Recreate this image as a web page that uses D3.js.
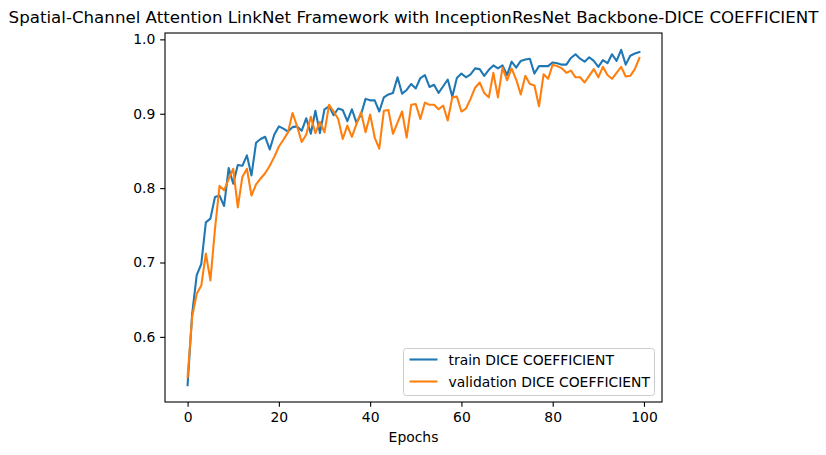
<!DOCTYPE html>
<html>
<head>
<meta charset="utf-8">
<script src="https://cdn.jsdelivr.net/npm/d3@7"></script>
<style>
  html, body { margin: 0; padding: 0; background: #fff; }
  svg { display: block; font-family: "DejaVu Sans", sans-serif; }
</style>
</head>
<body>
<svg id="chart" width="826" height="455"></svg>
<script>
const titleText = "Spatial-Channel Attention LinkNet Framework with InceptionResNet Backbone-DICE COEFFICIENT";
const xLabel = "Epochs";
const seriesNames = ["train DICE COEFFICIENT", "validation DICE COEFFICIENT"];
const xTicks = [0, 20, 40, 60, 80, 100];
const yTicks = [0.6, 0.7, 0.8, 0.9, 1.0];

const trainDice = [
  0.535, 0.631, 0.683, 0.698, 0.754, 0.759, 0.788, 0.790, 0.776, 0.827,
  0.806, 0.831, 0.830, 0.844, 0.817, 0.861, 0.866, 0.869, 0.852, 0.872,
  0.883, 0.880, 0.876, 0.882, 0.883, 0.877, 0.894, 0.873, 0.904, 0.874,
  0.906, 0.910, 0.898, 0.907, 0.905, 0.890, 0.906, 0.888, 0.899, 0.920,
  0.918, 0.918, 0.903, 0.922, 0.926, 0.928, 0.949, 0.927, 0.932, 0.940,
  0.934, 0.948, 0.952, 0.936, 0.939, 0.928, 0.937, 0.946, 0.923, 0.948,
  0.954, 0.949, 0.953, 0.961, 0.960, 0.951, 0.959, 0.965, 0.961, 0.965,
  0.952, 0.970, 0.962, 0.971, 0.973, 0.974, 0.954, 0.964, 0.964, 0.964,
  0.969, 0.968, 0.966, 0.966, 0.975, 0.980, 0.974, 0.970, 0.976, 0.971,
  0.963, 0.972, 0.968, 0.980, 0.971, 0.986, 0.966, 0.978, 0.981, 0.983
];
const valDice = [
  0.546, 0.627, 0.658, 0.669, 0.712, 0.676, 0.745, 0.803, 0.797, 0.812,
  0.826, 0.774, 0.815, 0.826, 0.790, 0.805, 0.813, 0.820, 0.830, 0.842,
  0.856, 0.865, 0.875, 0.901, 0.883, 0.862, 0.872, 0.896, 0.874, 0.889,
  0.875, 0.912, 0.903, 0.893, 0.866, 0.884, 0.869, 0.886, 0.902, 0.875,
  0.899, 0.868, 0.853, 0.904, 0.905, 0.873, 0.888, 0.903, 0.868, 0.912,
  0.913, 0.893, 0.915, 0.912, 0.912, 0.906, 0.911, 0.891, 0.922, 0.923,
  0.903, 0.907, 0.920, 0.935, 0.942, 0.928, 0.922, 0.955, 0.922, 0.962,
  0.945, 0.961, 0.946, 0.926, 0.951, 0.940, 0.938, 0.910, 0.953, 0.947,
  0.966, 0.964, 0.961, 0.955, 0.958, 0.949, 0.949, 0.942, 0.951, 0.960,
  0.949, 0.963, 0.952, 0.947, 0.955, 0.963, 0.950, 0.951, 0.960, 0.975
];
const colors = ["#1f77b4", "#ff7f0e"];

const svg = d3.select("#chart");
const W = 826, H = 455;
const plot = { left: 165, right: 662, top: 33, bottom: 402 };

const n = trainDice.length;
const xPad = (n - 1) * 0.05;
const x = d3.scaleLinear().domain([-xPad, n - 1 + xPad]).range([plot.left, plot.right]);
const allV = trainDice.concat(valDice);
const yMin = d3.min(allV), yMax = d3.max(allV);
const yPad = (yMax - yMin) * 0.05;
const y = d3.scaleLinear().domain([yMin - yPad, yMax + yPad]).range([plot.bottom, plot.top]);

svg.append("rect").attr("x", 0).attr("y", 0).attr("width", W).attr("height", H).attr("fill", "#fff");

// clip
svg.append("defs").append("clipPath").attr("id", "clip")
  .append("rect").attr("x", plot.left).attr("y", plot.top)
  .attr("width", plot.right - plot.left).attr("height", plot.bottom - plot.top);

const line = d3.line().x((d, i) => x(i)).y(d => y(d));
const g = svg.append("g").attr("clip-path", "url(#clip)");
[trainDice, valDice].forEach((s, k) => {
  g.append("path").datum(s).attr("d", line)
    .attr("fill", "none").attr("stroke", colors[k]).attr("stroke-width", 2.08)
    .attr("stroke-linejoin", "round").attr("stroke-linecap", "square");
});

// axes
const xAxis = d3.axisBottom(x).tickValues(xTicks).tickFormat(d3.format("d")).tickSizeOuter(0).tickSize(4.86).tickPadding(4.86);
const yAxis = d3.axisLeft(y).tickValues(yTicks).tickFormat(d3.format(".1f")).tickSizeOuter(0).tickSize(4.86).tickPadding(4.86);
const gx = svg.append("g").attr("transform", `translate(0,${plot.bottom})`).call(xAxis);
const gy = svg.append("g").attr("transform", `translate(${plot.left},0)`).call(yAxis);
[gx, gy].forEach(a => {
  a.select(".domain").remove();
  a.selectAll("line").attr("stroke", "#000").attr("stroke-width", 1.1);
  a.selectAll("text").attr("fill", "#000").style("font-size", "13.9px").style("font-family", "DejaVu Sans, sans-serif");
});

// spines
svg.append("rect").attr("x", plot.left).attr("y", plot.top)
  .attr("width", plot.right - plot.left).attr("height", plot.bottom - plot.top)
  .attr("fill", "none").attr("stroke", "#000").attr("stroke-width", 1.1);

// title
svg.append("text").attr("x", (plot.left + plot.right) / 2).attr("y", 23)
  .attr("text-anchor", "middle").style("font-size", "16.67px").attr("fill", "#000").text(titleText);

// x label
svg.append("text").attr("x", (plot.left + plot.right) / 2).attr("y", 442)
  .attr("text-anchor", "middle").style("font-size", "13.9px").attr("fill", "#000").text(xLabel);

// legend
const lg = svg.append("g");
const lx = 403.5, ly = 348.5, lw = 251, lh = 47;
lg.append("rect").attr("x", lx).attr("y", ly).attr("width", lw).attr("height", lh)
  .attr("rx", 3).attr("ry", 3).attr("fill", "#fff").attr("fill-opacity", 0.8)
  .attr("stroke", "#cccccc").attr("stroke-width", 1);
seriesNames.forEach((name, k) => {
  const cy = ly + 11 + k * 22;
  lg.append("line").attr("x1", lx + 6).attr("x2", lx + 34).attr("y1", cy).attr("y2", cy)
    .attr("stroke", colors[k]).attr("stroke-width", 2.08);
  lg.append("text").attr("x", lx + 45).attr("y", cy + 5)
    .style("font-size", "13.9px").attr("fill", "#000").text(name);
});
</script>
</body>
</html>
